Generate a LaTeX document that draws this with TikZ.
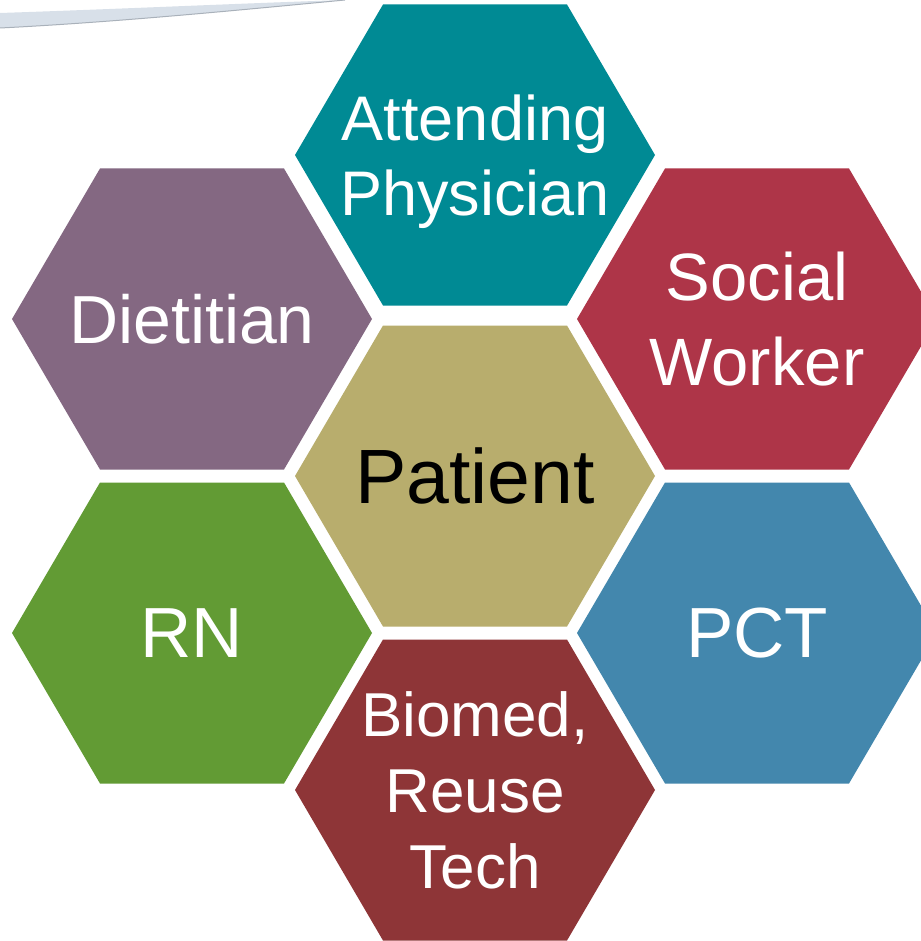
\documentclass[tikz,border=0pt]{standalone}
\usepackage{fontspec}
\setmainfont{Liberation Sans}

\definecolor{attendcol}{HTML}{008A94}
\definecolor{dietcol}{HTML}{846882}
\definecolor{socialcol}{HTML}{AE3548}
\definecolor{patientcol}{HTML}{B8AD6D}
\definecolor{rncol}{HTML}{629B34}
\definecolor{pctcol}{HTML}{4387AD}
\definecolor{biomedcol}{HTML}{8E3537}
\definecolor{swooshcol}{HTML}{D8E0E9}
\definecolor{swooshedge}{HTML}{A9B1BA}

\newcommand{\fs}[2]{\fontsize{#1}{#2}\selectfont}

\tikzset{
    cell/.style = {text = white, align = center, inner sep = 0pt, text depth = 0pt}
}

\begin{document}
\begin{tikzpicture}[x = 1pt, y = -1pt]
    \newcommand{\hexcell}[5]{%
        \fill[#3] (#2) +(-180, 0) -- +(-92, 150.5) -- +(92, 150.5) -- +(180, 0)
            -- +(92, -150.5) -- +(-92, -150.5) -- cycle;
        \node[cell, #4] (#1) at (#2) {#5};
    }
    \useasboundingbox[fill = white] (0, 0) rectangle (920, 941);

    % swoosh at the top left
    \fill[swooshcol] (0, 13) .. controls (120, 9) and (250, 3) .. (345, 0)
        .. controls (250, 9) and (120, 22) .. (0, 28) -- cycle;
    \draw[swooshedge, line width = 1pt] (345, 0) .. controls (250, 9) and (120, 22) .. (0, 28);

    \hexcell{attending}{475, 155}{attendcol}{font = \fs{63}{75}}{Attending\\Physician}
    \hexcell{dietitian}{192, 319}{dietcol}{font = \fs{68}{80}}{Dietitian}
    \hexcell{social}{757, 319}{socialcol}{font = \fs{67}{85}}{Social\\Worker}
    \hexcell{patient}{475, 476}{patientcol}{font = \fs{77}{90}, text = black}{Patient}
    \hexcell{rn}{192, 633}{rncol}{font = \fs{71}{84}}{RN}
    \hexcell{pct}{757, 633}{pctcol}{font = \fs{71}{84}}{PCT}
    \hexcell{biomed}{475, 790}{biomedcol}{font = \fs{62}{76}}{Biomed,\\Reuse\\Tech}
\end{tikzpicture}
\end{document}
